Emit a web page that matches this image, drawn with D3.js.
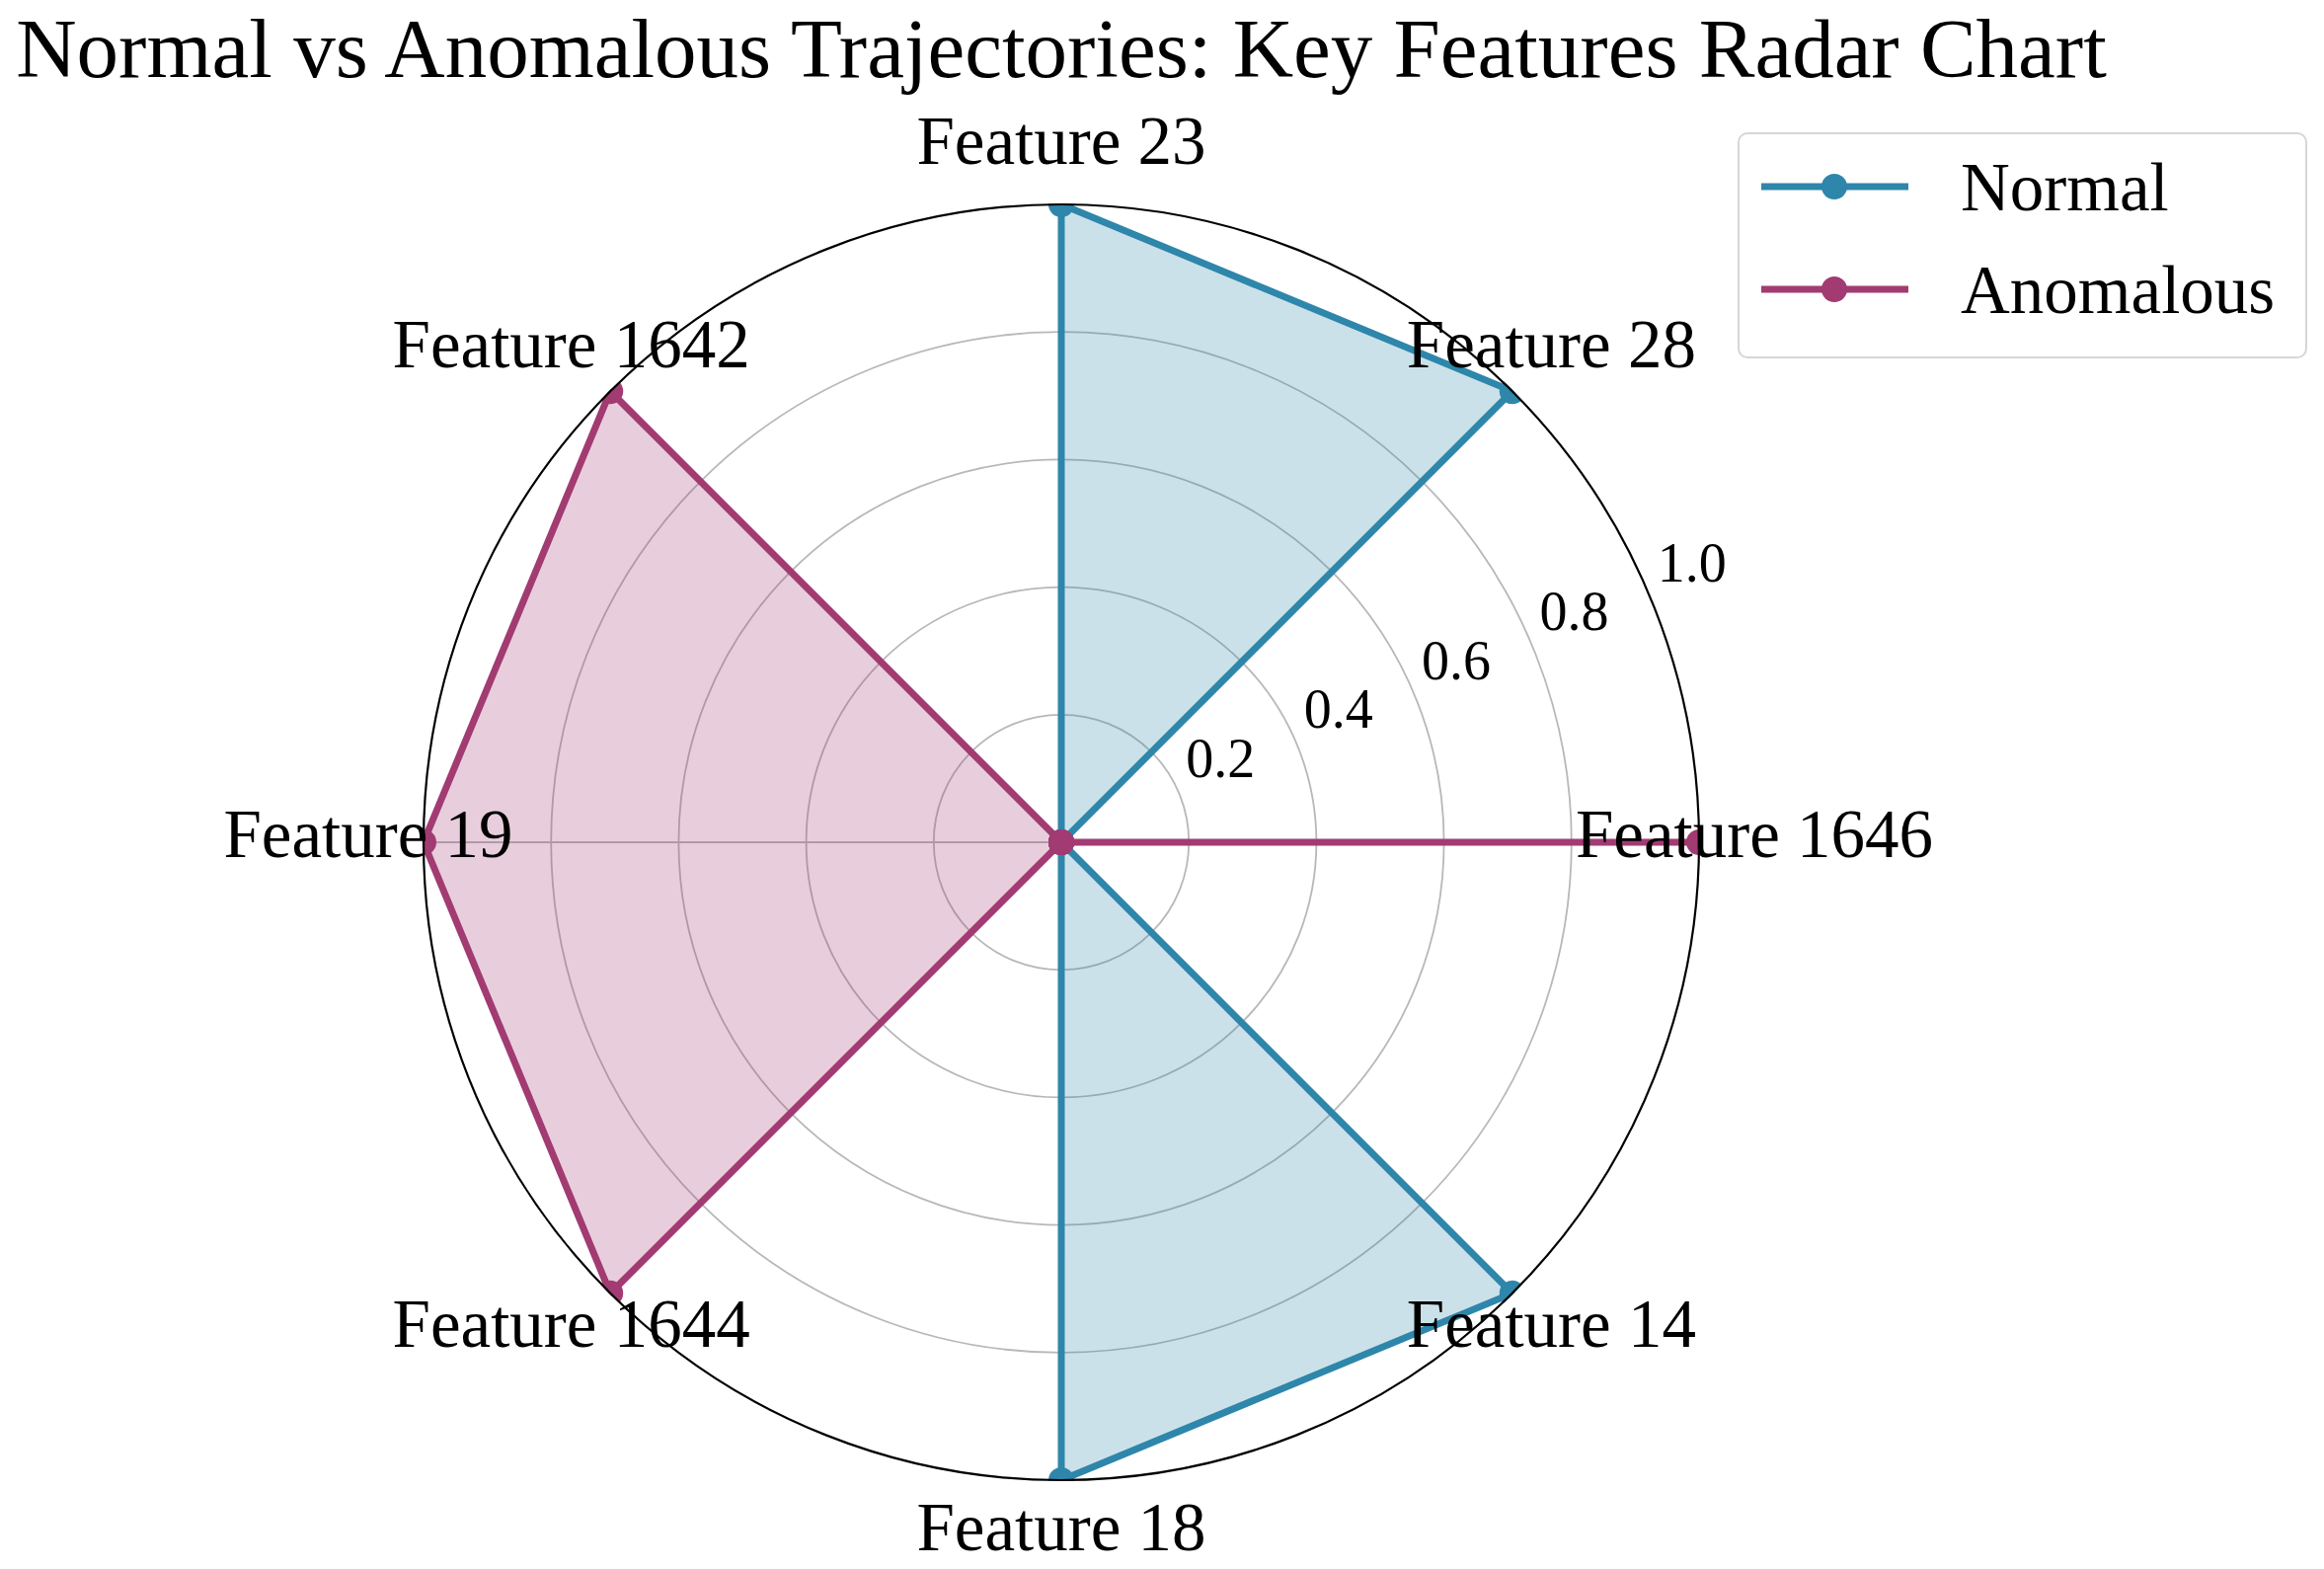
<!DOCTYPE html>
<html>
<head>
<meta charset="utf-8">
<script src="https://cdn.jsdelivr.net/npm/d3@7"></script>
<style>
  body { margin: 0; background: #fff; }
  text { font-family: "Liberation Serif", "Times New Roman", serif; fill: #000; }
</style>
</head>
<body>
<svg id="chart" width="2354" height="1589"></svg>
<script>
// features clockwise from the top
const features = ["Feature 23", "Feature 28", "Feature 1646", "Feature 14",
                  "Feature 18", "Feature 1644", "Feature 19", "Feature 1642"];
const normalValues    = [1, 1, 0, 1, 1, 0, 0, 0];
const anomalousValues = [0, 0, 1, 0, 0, 1, 1, 1];
const rTicks = [0.2, 0.4, 0.6, 0.8, 1.0];
const rTickLabels = ["0.2", "0.4", "0.6", "0.8", "1.0"];

const seriesList = [
  { name: "Normal",    values: normalValues,    color: "#2E86AB" },
  { name: "Anomalous", values: anomalousValues, color: "#A23B72" }
];

const svg = d3.select("#chart");
const cx = 1075, cy = 853, R = 646;

const r = d3.scaleLinear().domain([0, 1]).range([0, R]);
const angle = d3.scaleLinear().domain([0, features.length]).range([0, 2 * Math.PI]);

// title
svg.append("text")
  .attr("x", cx).attr("y", 78)
  .attr("text-anchor", "middle")
  .style("font-size", "85px")
  .text("Normal vs Anomalous Trajectories: Key Features Radar Chart");

svg.append("defs").append("clipPath").attr("id", "polarClip")
  .append("circle").attr("r", R + 1);

const g = svg.append("g").attr("transform", `translate(${cx},${cy})`);

// grid circles
g.selectAll(null).data(rTicks.slice(0, -1)).enter()
  .append("circle")
  .attr("r", d => r(d))
  .attr("fill", "none")
  .attr("stroke", "#b8b8b8")
  .attr("stroke-width", 1.8);

// radial grid lines
g.selectAll(null).data(features).enter()
  .append("line")
  .attr("x1", 0).attr("y1", 0)
  .attr("x2", (d, i) => r(1) * Math.sin(angle(i)))
  .attr("y2", (d, i) => -r(1) * Math.cos(angle(i)))
  .attr("stroke", "#b8b8b8")
  .attr("stroke-width", 1.8);

// data
const plot = g.append("g").attr("clip-path", "url(#polarClip)");
const radial = d3.lineRadial()
  .angle((d, i) => angle(i))
  .radius(d => r(d))
  .curve(d3.curveLinearClosed);

seriesList.forEach(s => {
  plot.append("path")
    .attr("d", radial(s.values))
    .attr("fill", s.color)
    .attr("fill-opacity", 0.25)
    .attr("stroke", "none");
  plot.append("path")
    .attr("d", radial(s.values))
    .attr("fill", "none")
    .attr("stroke", s.color)
    .attr("stroke-width", 7)
    .attr("stroke-linejoin", "miter");
  plot.selectAll(null).data(s.values).enter()
    .append("circle")
    .attr("cx", (d, i) => r(d) * Math.sin(angle(i)))
    .attr("cy", (d, i) => -r(d) * Math.cos(angle(i)))
    .attr("r", 13)
    .attr("fill", s.color);
});

// outer spine
g.append("circle")
  .attr("r", r(1))
  .attr("fill", "none")
  .attr("stroke", "#000")
  .attr("stroke-width", 2.2);

// radial tick labels at 22.5 deg above horizontal
const labAng = 22.5 * Math.PI / 180;
g.selectAll(null).data(rTicks).enter()
  .append("text")
  .attr("x", d => r(d) * Math.cos(labAng) + 7)
  .attr("y", d => -r(d) * Math.sin(labAng) - 17)
  .style("font-size", "56px")
  .text((d, i) => rTickLabels[i]);

// feature labels
const labR = 702;
g.selectAll(null).data(features).enter()
  .append("text")
  .attr("x", (d, i) => labR * Math.sin(angle(i)))
  .attr("y", (d, i) => -labR * Math.cos(angle(i)) + 15)
  .attr("text-anchor", "middle")
  .style("font-size", "69px")
  .text(d => d);

// legend
const lg = svg.append("g");
lg.append("rect")
  .attr("x", 1761).attr("y", 135)
  .attr("width", 575).attr("height", 227)
  .attr("rx", 9)
  .attr("fill", "#fff").attr("fill-opacity", 0.8)
  .attr("stroke", "#d6d6d6").attr("stroke-width", 2);

seriesList.forEach((s, i) => {
  const y = 189 + i * 104;
  lg.append("line")
    .attr("x1", 1784).attr("x2", 1933)
    .attr("y1", y).attr("y2", y)
    .attr("stroke", s.color).attr("stroke-width", 7);
  lg.append("circle")
    .attr("cx", 1858).attr("cy", y).attr("r", 13)
    .attr("fill", s.color);
  lg.append("text")
    .attr("x", 1986).attr("y", y + 24)
    .style("font-size", "69px")
    .text(s.name);
});
</script>
</body>
</html>
